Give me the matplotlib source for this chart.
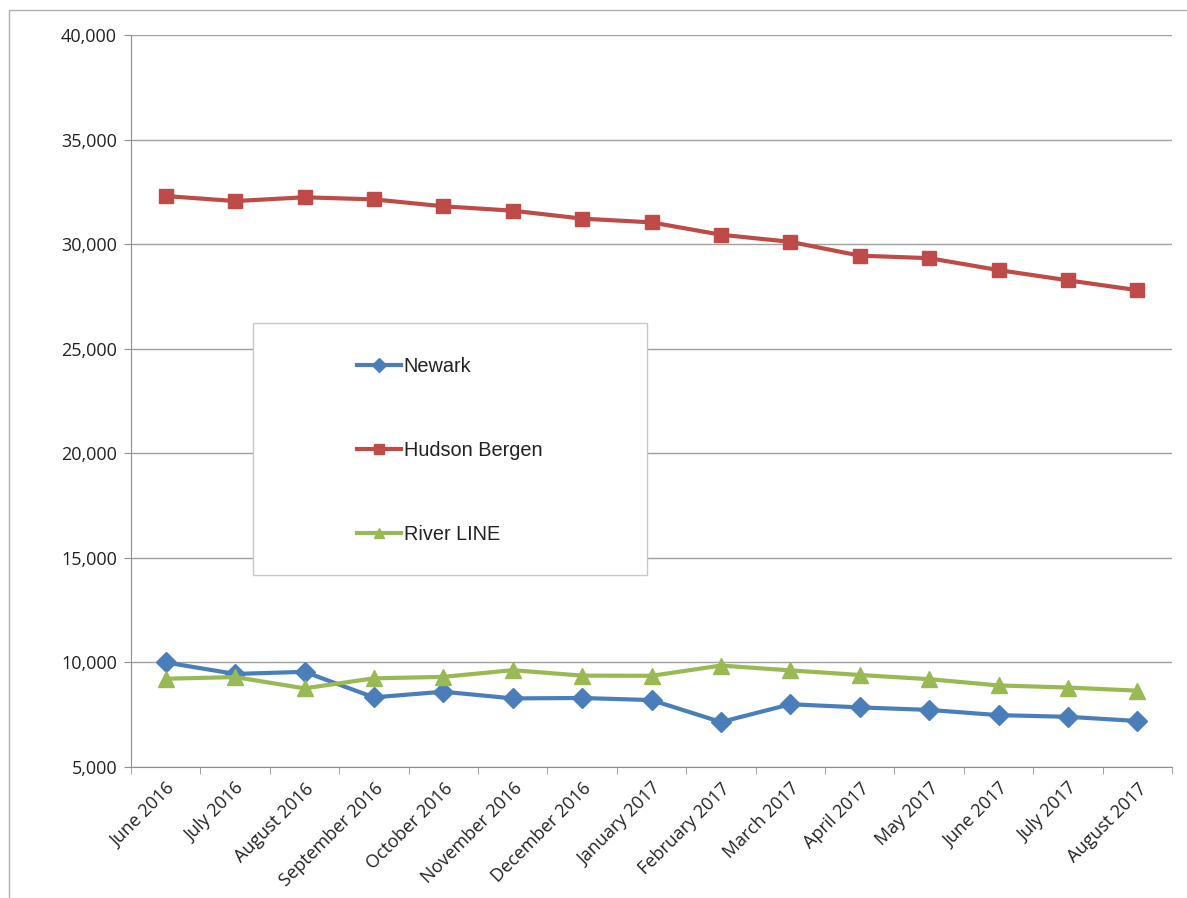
import matplotlib.pyplot as plt
from matplotlib.patches import Rectangle
from matplotlib.ticker import FuncFormatter, FixedLocator

months = ["June 2016", "July 2016", "August 2016", "September 2016", "October 2016",
          "November 2016", "December 2016", "January 2017", "February 2017", "March 2017",
          "April 2017", "May 2017", "June 2017", "July 2017", "August 2017"]

newark = [10000, 9450, 9550, 8330, 8600, 8280, 8300, 8200, 7150, 8000,
          7850, 7730, 7480, 7400, 7200]
hudson_bergen = [32300, 32060, 32240, 32140, 31810, 31600, 31220, 31040, 30450, 30110,
                 29450, 29330, 28760, 28270, 27800]
river_line = [9220, 9300, 8760, 9240, 9310, 9630, 9370, 9360, 9850, 9620,
              9400, 9200, 8900, 8800, 8650]

blue = "#4a7ebb"
red = "#be4b48"
green = "#98b954"

W, H = 1187, 898
fig = plt.figure(figsize=(W / 100, H / 100), dpi=100)
ax = fig.add_axes([131 / W, 1 - 767 / H, (1172 - 131) / W, (767 - 35) / H])

# outer chart frame
fig.patches.append(Rectangle((9 / W, -0.1), 1.2, 0.1 + (H - 10) / H,
                             transform=fig.transFigure, fill=False,
                             edgecolor="#b0b0b0", linewidth=1))

x = list(range(len(months)))
ax.plot(x, newark, color=blue, lw=3, marker="D", ms=10, label="Newark")
ax.plot(x, hudson_bergen, color=red, lw=3, marker="s", ms=10.5, label="Hudson Bergen")
ax.plot(x, river_line, color=green, lw=3, marker="^", ms=11, label="River LINE")

ax.set_xlim(-0.5, len(months) - 0.5)
ax.set_ylim(5000, 40000)
ax.set_yticks(range(5000, 40001, 5000))
ax.yaxis.set_major_formatter(FuncFormatter(lambda v, p: f"{int(v):,}"))
ax.set_xticks(x)
ax.set_xticklabels(months, rotation=45, ha="right", rotation_mode="anchor")
ax.xaxis.set_minor_locator(FixedLocator([i - 0.5 for i in range(len(months) + 1)]))
ax.tick_params(axis="x", which="major", length=0, labelsize=13, pad=9)
ax.tick_params(axis="x", which="minor", length=5, color="#909090", direction="out")
ax.tick_params(axis="y", length=5, color="#909090", labelsize=13, pad=5)
for lab in ax.get_xticklabels() + ax.get_yticklabels():
    lab.set_fontfamily("Open Sans")
    lab.set_color("#222222")

ax.grid(axis="y", color="#a0a0a0", lw=1)
ax.set_axisbelow(True)
for side in ["top", "right"]:
    ax.spines[side].set_visible(False)
ax.spines["left"].set_color("#909090")
ax.spines["bottom"].set_color("#909090")

# legend frame, then the entries inside it
ax.add_patch(Rectangle((253 / W, 1 - 575 / H), (647 - 253) / W, (575 - 323) / H,
                       transform=fig.transFigure, facecolor="white",
                       edgecolor="#c8c8c8", lw=1, zorder=4))
leg = ax.legend(loc="upper left", bbox_to_anchor=((357 - 131) / 1041, (767 - 357) / 732),
                frameon=False, fontsize=14.3, labelspacing=3.27, handlelength=2.2,
                handletextpad=0.15, borderpad=0, borderaxespad=0, markerscale=0.7)
leg.set_zorder(5)
for t in leg.get_texts():
    t.set_fontfamily("Liberation Sans")
    t.set_color("#222222")

fig.savefig("out.png", dpi=100, facecolor="white")
